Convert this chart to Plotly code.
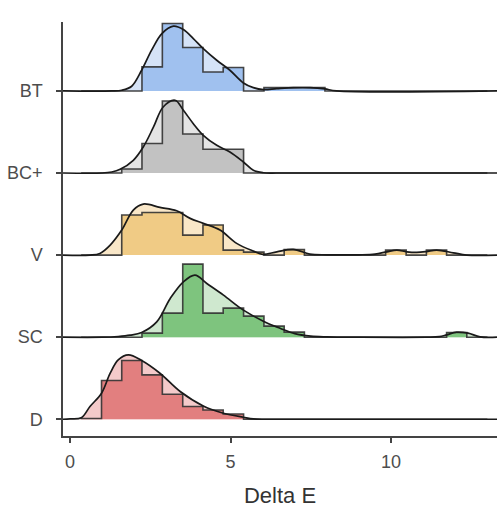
import plotly.graph_objects as go

# ---------------- data ----------------
GROUPS = ["D", "SC", "V", "BC+", "BT"]          # bottom -> top
X_TICKS = [0, 5, 10]
X_TITLE = "Delta E"

BIN_EDGES = [0.345, 0.98, 1.61, 2.24, 2.875, 3.51, 4.14, 4.77, 5.405, 6.04,
             6.67, 7.30, 7.94, 8.57, 9.20, 9.83, 10.47, 11.10, 11.73, 12.36, 13.0]

# histogram heights (scaled density, ridge height units x 82)
HIST_D = [0.8, 38.7, 58.7, 44.3, 25, 12.7, 9.3, 5.3, 0, 0, 0, 0, 0, 0, 0, 0, 0, 0, 0, 0]
HIST_SC = [0, 0, 0, 4, 24, 73, 24, 29, 21, 11, 5, 0, 0, 0, 0, 0, 0, 0, 4.7, 0]
HIST_V = [0, 0, 40, 42.5, 42.5, 20, 30, 5, 3, 0, 5.5, 0, 0, 0, 0, 5, 0, 5, 0, 0]
HIST_BCP = [0, 0, 4, 29.5, 72, 39, 23.7, 23.7, 0, 0, 0, 0, 0, 0, 0, 0, 0, 0, 0, 0]
HIST_BT = [0, 0, 0, 24, 67.4, 43.4, 19, 23.4, 0, 3.3, 3.3, 3.3, 0, 0, 0, 0, 0, 0, 0, 0]

# density curves
DENS_D_X = [-0.22, 0.0, 0.35, 0.62, 0.98, 1.25, 1.5, 1.82, 2.23, 2.8, 3.43, 4.15, 4.78, 5.4, 5.71, 6.2, 13.3]
DENS_D_Y = [0, 0.3, 1.5, 12.7, 26, 46, 59.3, 64.3, 58.7, 46, 27.7, 13.3, 6, 2, 0.3, 0, 0]

DENS_SC_X = [-0.22, 1.0, 1.5, 1.87, 2.23, 2.7, 3.12, 3.53, 3.89, 4.26, 4.78, 5.40, 6.02, 6.54,
             7.0, 7.5, 8.0, 9.0, 11.1, 11.5, 11.73, 12.04, 12.4, 12.77, 13.3]
DENS_SC_Y = [0, 0, 0.7, 2, 4.7, 15.3, 38.7, 55.3, 62, 53.7, 42, 27, 16, 9,
             3.5, 1, 0.3, 0, 0, 0.5, 2.3, 5, 4, 0.3, 0]

DENS_V_X = [-0.22, 0.62, 0.93, 1.25, 1.61, 1.97, 2.28, 2.8, 3.32, 3.74, 4.15, 4.67, 5.19, 5.71,
            6.0, 6.44, 6.95, 7.47, 8.0, 9.0, 9.5, 9.87, 10.18, 10.49, 10.8, 11.1, 11.42, 11.94,
            12.36, 13.3]
DENS_V_Y = [0, 0, 1.7, 10, 25, 45, 51, 47.7, 44.3, 36.7, 31.7, 25, 11.7, 4,
            0.7, 3.3, 5.7, 1, 0.3, 0.3, 1, 3.3, 5, 3.3, 2.7, 3.5, 5, 2.3,
            0, 0]

DENS_BCP_X = [-0.22, 1.0, 1.3, 1.56, 1.97, 2.28, 2.6, 2.9, 3.27, 3.53, 3.84, 4.15, 4.57, 4.98,
              5.4, 5.71, 6.02, 6.5, 13.3]
DENS_BCP_Y = [0, 0, 1, 3.7, 12.7, 26, 46, 66, 72.7, 62.7, 49.3, 37.7, 27.7, 21,
              11, 2.7, 0.3, 0, 0]

DENS_BT_X = [-0.22, 1.3, 1.61, 1.92, 2.23, 2.54, 2.86, 3.22, 3.53, 3.84, 4.15, 4.57, 4.98,
             5.4, 5.71, 6.02, 6.44, 6.96, 7.48, 7.94, 8.3, 13.3]
DENS_BT_Y = [0, 0, 0.7, 4.7, 20.7, 40.7, 57.3, 64.7, 61.3, 52.3, 42.3, 30.7, 20.7,
             8, 3.3, 1.3, 2.3, 3.3, 3.3, 2, 0, 0]

HIST = {"D": HIST_D, "SC": HIST_SC, "V": HIST_V, "BC+": HIST_BCP, "BT": HIST_BT}
DENS = {"D": (DENS_D_X, DENS_D_Y), "SC": (DENS_SC_X, DENS_SC_Y), "V": (DENS_V_X, DENS_V_Y),
        "BC+": (DENS_BCP_X, DENS_BCP_Y), "BT": (DENS_BT_X, DENS_BT_Y)}

# ---------------- styles ----------------
UNIT = 82.0  # scaled density per ridge spacing
HIST_FILL = {"D": "#E27F7F", "SC": "#7EC47E", "V": "#F0CB85", "BC+": "#C2C2C2", "BT": "#A0C1EF"}
DENS_FILL = {"D": "#F4CACA", "SC": "#CFE8CF", "V": "#F9E7C8", "BC+": "#E4E4E4", "BT": "#D5E3F7"}

fig = go.Figure()
for g in reversed(GROUPS):  # top ridge first, bottom ridge drawn last
    base = GROUPS.index(g)
    dx, dy = DENS[g]
    dens_y = [base + v / UNIT for v in dy]
    fig.add_trace(go.Scatter(x=dx, y=dens_y, mode="lines", fill="toself",
                             fillcolor=DENS_FILL[g], line=dict(width=0, shape="spline"),
                             hoverinfo="skip", showlegend=False))
    h = HIST[g]
    hx = [BIN_EDGES[0]] + BIN_EDGES[:-1] + [BIN_EDGES[-1], BIN_EDGES[-1]]
    hy = [base] + [base + v / UNIT for v in h] + [base + h[-1] / UNIT, base]
    fig.add_trace(go.Scatter(x=hx, y=hy, mode="lines", fill="toself",
                             fillcolor=HIST_FILL[g],
                             line=dict(color="rgba(50,50,50,0.9)", width=1.6, shape="hv"),
                             hoverinfo="skip", showlegend=False))
    fig.add_trace(go.Scatter(x=dx, y=dens_y, mode="lines",
                             line=dict(color="#1a1a1a", width=1.7, shape="spline"),
                             hoverinfo="skip", showlegend=False))

fig.update_layout(
    width=501, height=508,
    margin=dict(l=63, r=4, t=22, b=72),
    plot_bgcolor="white", paper_bgcolor="white",
    font=dict(family="Liberation Sans, Arial, sans-serif", color="#4d4d4d"),
)
fig.update_xaxes(range=[-0.22, 13.3], tickvals=X_TICKS, ticktext=[str(t) for t in X_TICKS],
                 automargin=False,
                 showgrid=False, zeroline=False, showline=True, linecolor="#444", linewidth=1.5,
                 ticks="outside", ticklen=5, tickcolor="#444", tickwidth=1.5,
                 tickfont=dict(size=18, color="#4d4d4d"), ticklabelstandoff=4,
                 title=dict(text=X_TITLE, font=dict(size=22, color="#333"), standoff=18))
fig.update_yaxes(range=[-0.204, 4.84], tickvals=list(range(len(GROUPS))), ticktext=GROUPS,
                 automargin=False,
                 showgrid=False, zeroline=False, showline=True, linecolor="#444", linewidth=1.5,
                 ticks="outside", ticklen=5, tickcolor="#444", tickwidth=1.5,
                 tickfont=dict(size=18, color="#4d4d4d"), ticklabelstandoff=10)

fig.write_html("out.html", config={"displayModeBar": False},
               post_script="document.body.style.margin='0';")
